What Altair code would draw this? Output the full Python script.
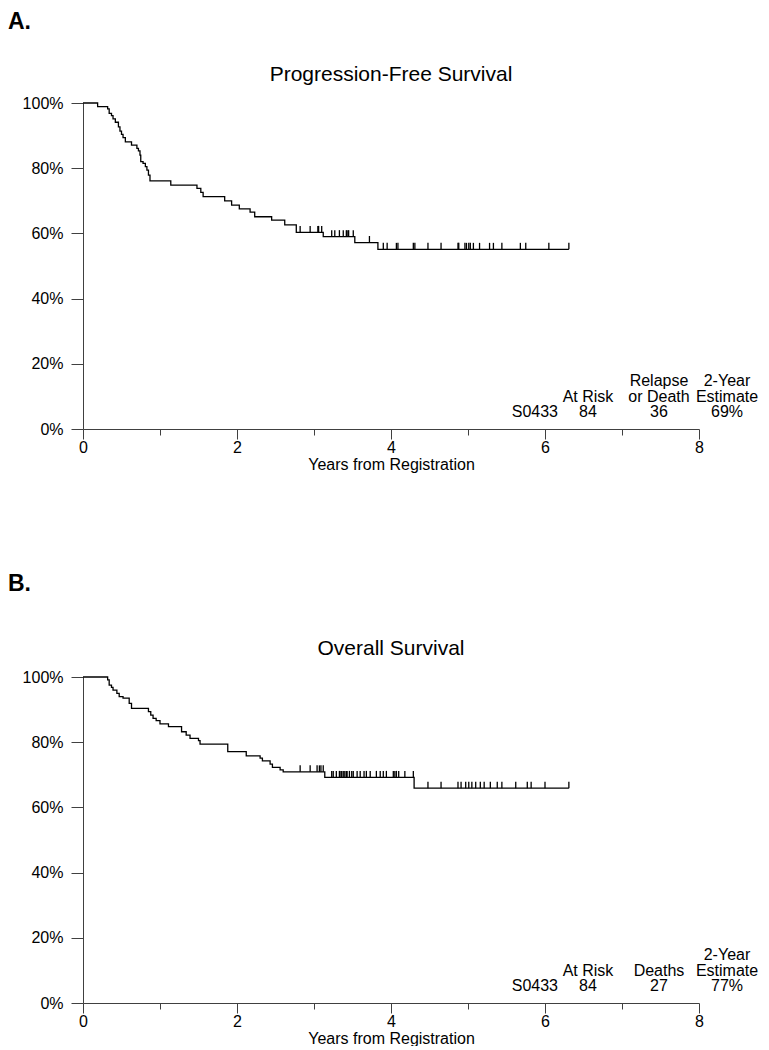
import altair as alt
import pandas as pd

W, H = 616, 326
FONT = "Liberation Sans"

x_ticks = [0, 1, 2, 3, 4, 5, 6, 7, 8]
y_ticks = [0, 10, 20, 30, 40, 50, 60, 70, 80, 90, 100]

# Progression-free survival: step start times (years) and survival level (%)
pfs_time = [0, 0.19, 0.32, 0.34, 0.37, 0.39, 0.42, 0.46, 0.48, 0.50, 0.52, 0.55,
            0.63, 0.70, 0.72, 0.74, 0.75, 0.78, 0.81, 0.83, 0.85, 0.87,
            1.14, 1.48, 1.53, 1.56, 1.84, 1.93, 2.03, 2.17, 2.23, 2.45, 2.62, 2.77,
            3.12, 3.53, 3.83, 6.31]
pfs_surv = [100, 98.9, 98.2, 96.8, 96.1, 95.1, 94.1, 92.7, 91.4, 90.4, 89.4, 88.1,
            87.1, 86.1, 85.3, 84.0, 82.0, 81.5, 80.5, 79.4, 77.9, 76.1,
            74.8, 73.8, 72.6, 71.3, 70.0, 68.7, 67.5, 66.5, 65.1, 64.1, 62.6, 60.3,
            59.0, 57.2, 55.1, 55.1]
pfs_cens = [2.82, 2.95, 3.05, 3.06, 3.10, 3.23, 3.27, 3.33, 3.38, 3.42, 3.43, 3.45,
            3.51, 3.72, 3.90, 3.95, 4.07, 4.09, 4.29, 4.31, 4.48, 4.65, 4.87, 4.88,
            4.96, 4.98, 5.01, 5.03, 5.07, 5.15, 5.28, 5.33, 5.44, 5.68, 5.75, 6.05, 6.31]

# Overall survival
os_time = [0, 0.32, 0.34, 0.37, 0.39, 0.44, 0.47, 0.52, 0.60, 0.63,
           0.85, 0.88, 0.91, 0.95, 1.00, 1.11, 1.28, 1.34, 1.39, 1.50, 1.52,
           1.88, 2.12, 2.30, 2.33, 2.43, 2.46, 2.56, 2.60, 3.14, 4.30, 6.31]
os_surv = [100, 99.1, 97.5, 96.8, 96.0, 95.0, 94.0, 93.5, 91.9, 90.4,
           89.4, 88.3, 87.3, 86.6, 85.6, 84.8, 83.2, 82.2, 81.2, 80.5, 79.4,
           77.1, 75.8, 75.1, 74.3, 73.3, 72.3, 71.5, 70.9, 69.2, 65.9, 65.9]
os_cens = [2.82, 2.95, 3.04, 3.07, 3.09, 3.12, 3.23, 3.25, 3.29, 3.33, 3.35, 3.36,
           3.38, 3.40, 3.42, 3.43, 3.46, 3.49, 3.51, 3.56, 3.60, 3.65, 3.68, 3.73,
           3.81, 3.86, 3.90, 3.94, 4.03, 4.05, 4.07, 4.10, 4.18, 4.29, 4.48, 4.65,
           4.87, 4.91, 4.97, 5.01, 5.05, 5.10, 5.16, 5.21, 5.29, 5.38, 5.44, 5.62,
           5.77, 5.82, 6.00, 6.31]

group_label = "S0433"
at_risk_head = ["At Risk"]
estimate_head = ["2-Year", "Estimate"]
pfs_event_head = ["Relapse", "or Death"]
os_event_head = ["Deaths"]
pfs_at_risk, pfs_events, pfs_estimate = "84", "36", "69%"
os_at_risk, os_events, os_estimate = "84", "27", "77%"


def step_level(times, survs, t):
    lvl = survs[0]
    for tt, s in zip(times, survs):
        if tt <= t:
            lvl = s
    return lvl


ROW_Y = [278, 293.7, 309.4]


def cell(text, x, row, align="center"):
    return alt.Chart(pd.DataFrame({"v": [text]})).mark_text(
        align=align, baseline="middle", font=FONT, fontSize=16, color="black"
    ).encode(x=alt.value(x), y=alt.value(ROW_Y[row]), text="v:N")


def column(lines, x, align="center"):
    n = len(lines)
    return [cell(s, x, 3 - n + i, align) for i, s in enumerate(lines)]


def panel(letter, letter_y, title, times, survs, cens, event_head, n_risk, n_ev, est):
    curve_df = pd.DataFrame({"t": times, "s": survs})
    cens_df = pd.DataFrame({"t": cens, "s": [step_level(times, survs, c) for c in cens]})

    x_axis = alt.Axis(
        values=x_ticks,
        format="d",
        labelExpr="datum.value % 2 === 0 ? datum.label : ''",
        labelFlush=False,
        title="Years from Registration",
        titleY=35, titleBaseline="middle",
        tickSize={"condition": {"test": "datum.value % 2 === 0", "value": 10}, "value": 6},
        labelPadding=0,
    )
    y_axis = alt.Axis(
        values=y_ticks,
        labelExpr="datum.value % 20 === 0 ? datum.value + '%' : ''",
        labelFlush=False,
        title=None,
        tickSize={"condition": {"test": "datum.value % 20 === 0", "value": 12}, "value": 6},
        labelPadding=8,
    )
    xs = alt.Scale(domain=[0, 8], nice=False, zero=False)
    ys = alt.Scale(domain=[0, 100], nice=False)

    curve = alt.Chart(curve_df).mark_line(
        interpolate="step-after", color="black", strokeWidth=1.3
    ).encode(x=alt.X("t:Q", scale=xs, axis=x_axis), y=alt.Y("s:Q", scale=ys, axis=y_axis))

    ticks = alt.Chart(cens_df).transform_calculate(s2="datum.s + 2").mark_rule(
        color="black", strokeWidth=1.3
    ).encode(x="t:Q", y="s:Q", y2="s2:Q")

    letter_mark = alt.Chart(pd.DataFrame({"v": [letter]})).mark_text(
        align="left", baseline="top", font=FONT, fontWeight="bold",
        fontSize=23, color="black"
    ).encode(x=alt.value(-75), y=alt.value(letter_y), text="v:N")

    title_mark = alt.Chart(pd.DataFrame({"v": [title]})).mark_text(
        align="center", baseline="middle", font=FONT, fontSize=21, color="black"
    ).encode(x=alt.value(W / 2), y=alt.value(-28), text="v:N")

    texts = []
    texts += column([group_label], 475, "right")
    texts += column(at_risk_head + [n_risk], 505)
    texts += column(event_head + [n_ev], 576)
    texts += column(estimate_head + [est], 644)

    return alt.layer(curve, ticks, letter_mark, title_mark, *texts).properties(width=W, height=H)


top = panel("A.", -92, "Progression-Free Survival", pfs_time, pfs_surv, pfs_cens,
            pfs_event_head, pfs_at_risk, pfs_events, pfs_estimate)
bottom = panel("B.", -104, "Overall Survival", os_time, os_surv, os_cens,
               os_event_head, os_at_risk, os_events, os_estimate)

chart = alt.vconcat(top, bottom, spacing=101).properties(
    padding={"top": 3, "bottom": 0, "left": 0, "right": 0}
).configure_view(
    stroke=None
).configure_axis(
    grid=False,
    domainColor="#404040", tickColor="#404040", domainWidth=1, tickWidth=1,
    labelFont=FONT, labelFontSize=16, labelColor="black",
    titleFont=FONT, titleFontSize=16, titleFontWeight="normal", titleColor="black",
)

chart.save("out.html", embed_options={"renderer": "svg", "actions": False})
